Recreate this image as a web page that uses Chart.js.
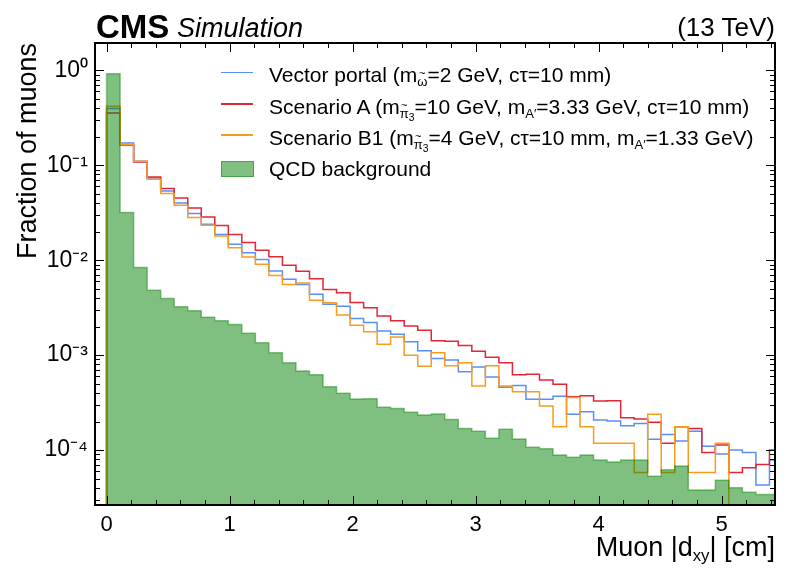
<!DOCTYPE html>
<html><head><meta charset="utf-8">
<script src="https://cdn.jsdelivr.net/npm/chart.js@4.4.0/dist/chart.umd.min.js"></script>
<style>
html,body{margin:0;padding:0;background:#fff;}
#wrap{position:relative;width:788px;height:568px;font-family:"Liberation Sans",Arial,Helvetica,sans-serif;color:#000;overflow:hidden;}
#c{position:absolute;left:0;top:0;}
.t{position:absolute;white-space:nowrap;line-height:1;}
.t sub{font-size:62%;vertical-align:-0.32em;line-height:0;}
.t sub sub{font-size:80%;vertical-align:-0.25em;}
.acc{position:relative;display:inline-block;line-height:1;}
.acc i{position:absolute;left:0;right:0;top:-0.62em;text-align:center;font-style:normal;font-size:85%;}
.h{position:absolute;}
</style>
</head><body>
<div id="wrap">
<canvas id="c" width="788" height="568"></canvas>
<div class="t" style="left:96px;top:10px;font-size:33px;font-weight:bold;">CMS</div>
<div class="t" style="left:177px;top:15px;font-size:27px;font-style:italic;">Simulation</div>
<div class="t" style="right:13px;top:14px;font-size:26px;">(13 TeV)</div>
<div class="t" style="right:13px;top:534px;font-size:27px;">Muon |d<sub>xy</sub>| [cm]</div>
<div id="legend"></div>
</div>
<script>
// ---------- data ----------
const binEdges = [0,0.11,0.22,0.33,0.44,0.55,0.66,0.77,0.88,0.99,1.1,1.21,1.32,1.43,1.54,1.65,1.76,1.87,1.98,2.09,2.2,2.31,2.42,2.53,2.64,2.75,2.86,2.97,3.08,3.19,3.3,3.41,3.52,3.63,3.74,3.85,3.96,4.07,4.18,4.29,4.4,4.51,4.62,4.73,4.84,4.95,5.06,5.17,5.28,5.39,5.5];

const vectorPortal = [0.395,0.172,0.110,0.0735,0.0536,0.0401,0.031,0.0239,0.0186,0.0147,
0.012,0.0102,0.00771,0.0063,0.00555,0.00439,0.00344,0.00328,0.00243,0.00221,
0.0018,0.00166,0.00138,0.00111,0.00092,0.00089,0.00067,0.00075,0.00059,0.00046,
0.00048,0.000344,0.000344,0.00037,0.000239,0.000253,0.000207,0.000203,0.00018,0.000191,
0.00013,0.000146,0.000125,0.000158,0.00011,0.0000908,0.0001,0.0000946,0.0000428,0.0000785];

const scenarioA = [0.355,0.163,0.108,0.0753,0.0568,0.0453,0.0355,0.0286,0.0232,0.0186,
0.0154,0.0127,0.0109,0.00886,0.00766,0.00636,0.00492,0.00453,0.00359,0.00315,
0.00259,0.0023,0.00203,0.00183,0.00142,0.0014,0.00126,0.0011,0.00095,0.00083,
0.00062,0.00063,0.000546,0.000495,0.000364,0.000373,0.000328,0.00033,0.000219,0.000212,
0.000196,0.000118,0.000176,0.000169,0.0000946,0.000113,0.0000582,0.0000651,0.0000706,0.0001];

const scenarioB1 = [0.418,0.166,0.110,0.0712,0.0504,0.0379,0.0281,0.0234,0.018,0.0135,
0.0108,0.00908,0.0069,0.00555,0.00577,0.00379,0.00356,0.00264,0.00207,0.00176,
0.0013,0.00155,0.001,0.000766,0.00106,0.000775,0.00083,0.000472,0.000771,0.000472,
0.000411,0.000411,0.000292,0.000176,0.000359,0.000176,0.000118,0.000118,0.000118,0.0000582,
0.000238,0.0000582,0.000176,0.0000582,0.0000582,0.000118,0,0,0,0];

const qcdBackground = [0.92,0.0318,0.00838,0.00483,0.00395,0.00323,0.00294,0.0025,0.0023,0.0021,
0.0017,0.00135,0.00106,0.00083,0.00068,0.00062,0.000466,0.000398,0.000345,0.000347,
0.000282,0.000275,0.00025,0.000234,0.00024,0.00021,0.000169,0.000158,0.000133,0.000166,
0.000131,0.000107,0.000103,0.000089,0.000084,0.000089,0.0000785,0.000075,0.0000785,0.0000785,
0.000053,0.000062,0.000068,0.000038,0.000038,0.000048,0.00004,0.000036,0.000034,0.000034];

const seriesLabels = [
  'Vector portal (m<sub><span class="acc">ω<i>~</i></span></sub>=2 GeV, cτ=10 mm)',
  'Scenario A (m<sub><span class="acc">π<i>~</i></span><sub>3</sub></sub>=10 GeV, m<sub>A′</sub>=3.33 GeV, cτ=10 mm)',
  'Scenario B1 (m<sub><span class="acc">π<i>~</i></span><sub>3</sub></sub>=4 GeV, cτ=10 mm, m<sub>A′</sub>=1.33 GeV)',
  'QCD background'
];
const xTickValues = [0,1,2,3,4,5];
const xTickLabels = ['0','1','2','3','4','5'];
const yTickValues = [1e-4,1e-3,1e-2,1e-1,1];
const yTickLabels = ['10⁻⁴','10⁻³','10⁻²','10⁻¹','10⁰'];

// ---------- build ----------
const FONT = '"Liberation Sans", Arial, Helvetica, sans-serif';
const FLOOR = 1e-7; // empty bins are drawn below the axis
function stepPoints(vals){
  const pts = [{x: binEdges[0], y: FLOOR}];
  for (let i = 0; i < vals.length; i++) {
    const v = vals[i];
    pts.push({x: binEdges[i], y: v > 0 ? v : FLOOR});
    pts.push({x: binEdges[i + 1], y: v > 0 ? v : FLOOR});
  }
  return pts;
}
const lineStyle = (label, color, order) => ({
  label, data: [], borderColor: color, borderWidth: 1.5, stepped: false,
  fill: false, pointRadius: 0, order, tension: 0
});
const datasets = [
  Object.assign(lineStyle('Vector portal', '#5790fc', 3), {data: stepPoints(vectorPortal)}),
  Object.assign(lineStyle('Scenario A', '#e42536', 2), {data: stepPoints(scenarioA)}),
  Object.assign(lineStyle('Scenario B1', '#f89c20', 1), {data: stepPoints(scenarioB1)}),
  {label: 'QCD background', data: stepPoints(qcdBackground), stepped: false,
   borderColor: 'rgba(0,128,0,0.45)', borderWidth: 1.5,
   backgroundColor: 'rgba(0,128,0,0.5)', fill: 'start', pointRadius: 0, order: 0}
];

const frameTicks = {
  id: 'frameTicks',
  afterDraw(chart){
    const {ctx, chartArea: a, scales: {x, y}} = chart;
    ctx.save();
    ctx.strokeStyle = '#000';
    ctx.lineWidth = 1;
    const seg = (x1,y1,x2,y2)=>{ctx.beginPath();ctx.moveTo(x1,y1);ctx.lineTo(x2,y2);ctx.stroke();};
    for (let e = -6; e <= 1; e++) for (let m = 1; m <= 9; m++) {
      const v = m * Math.pow(10, e);
      if (v < y.min || v > y.max) continue;
      const py = Math.round(y.getPixelForValue(v)) + 0.5;
      const len = m === 1 ? 9 : 5;
      seg(a.left, py, a.left + len, py);
      seg(a.right, py, a.right - len, py);
    }
    for (let k = -1; k <= 28; k++) {
      const v = k / 5;
      if (v < x.min || v > x.max) continue;
      const px = Math.round(x.getPixelForValue(v)) + 0.5;
      const len = k % 5 === 0 ? 9 : 5;
      seg(px, a.bottom, px, a.bottom - len);
      seg(px, a.top, px, a.top + len);
    }
    ctx.lineWidth = 2;
    ctx.strokeRect(a.left, a.top, a.right - a.left, a.bottom - a.top);
    ctx.restore();
  }
};

const chart = new Chart(document.getElementById('c'), {
  type: 'line',
  data: {datasets},
  options: {
    responsive: false, animation: false, devicePixelRatio: 1,
    layout: {padding: {top: 43, right: 13, left: 0, bottom: 0}},
    plugins: {legend: {display: false}, tooltip: {enabled: false}},
    scales: {
      x: {
        type: 'linear', min: -0.094, max: 5.435,
        afterBuildTicks(s){ s.ticks = xTickValues.map(v => ({value: v})); },
        afterFit(s){ s.height = 63; },
        grid: {display: false, drawTicks: false}, border: {display: false},
        ticks: {font: {size: 22, family: FONT}, color: '#000', padding: 7, maxRotation: 0, autoSkip: false,
          callback: (v) => { const i = xTickValues.indexOf(v); return i >= 0 ? xTickLabels[i] : ''; }}
      },
      y: {
        type: 'logarithmic', min: 2.64e-5, max: 1.94,
        afterBuildTicks(s){ s.ticks = yTickValues.map(v => ({value: v})); },
        afterFit(s){ s.width = 95; },
        grid: {display: false, drawTicks: false}, border: {display: false},
        ticks: {font: {size: 23, family: FONT}, color: '#000', padding: 7, autoSkip: false,
          callback: (v) => { const i = yTickValues.findIndex(t => Math.abs(t - v) / t < 1e-6); return i >= 0 ? yTickLabels[i] : ''; }},
        title: {display: true, text: 'Fraction of muons', align: 'end', color: '#000',
          font: {size: 27, family: FONT}, padding: {top: 12, bottom: 0}}
      }
    }
  },
  plugins: [frameTicks]
});

// ---------- legend (HTML, built from the datasets) ----------
const legendRows = [
  {ds: 0, base: 82}, {ds: 1, base: 113.5}, {ds: 2, base: 144.5}, {ds: 3, base: 175.5}
];
const leg = document.getElementById('legend');
legendRows.forEach((r, i) => {
  const d = chart.data.datasets[r.ds];
  const h = document.createElement('div');
  h.className = 'h';
  if (d.fill) {
    Object.assign(h.style, {left: '221px', top: (r.base - 15) + 'px', width: '31px', height: '14px',
      background: d.backgroundColor, border: '1px solid ' + d.borderColor});
  } else {
    Object.assign(h.style, {left: '221px', top: (r.base - 10.5) + 'px', width: '32px', height: '1.5px',
      background: d.borderColor});
  }
  leg.appendChild(h);
  const t = document.createElement('div');
  t.className = 't';
  t.style.left = '269px';
  t.style.top = (r.base - 17.8) + 'px';
  t.style.fontSize = '21px';
  t.innerHTML = seriesLabels[i];
  leg.appendChild(t);
});
</script>
</body></html>
